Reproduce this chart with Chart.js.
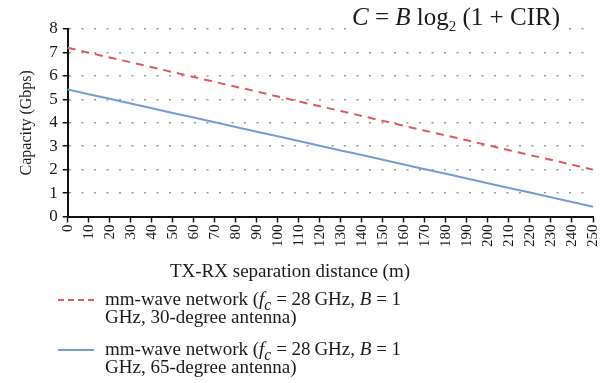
<!DOCTYPE html>
<html>
<head>
<meta charset="utf-8">
<script src="https://cdn.jsdelivr.net/npm/chart.js@4/dist/chart.umd.min.js"></script>
<style>
  body { margin: 0; background: #fff; overflow: hidden; }
  #wrap { position: relative; width: 600px; height: 383px; overflow: hidden; font-family: "Times New Roman", Tinos, "Liberation Serif", "DejaVu Serif", "Noto Serif", serif; color: #1a1a1a; }
  #chartBox { position: absolute; left: 0; top: 0; width: 613px; height: 285px; }
  #formula { position: absolute; left: 346px; top: 3px; padding: 0 6px; background: #fff; font-size: 25px; white-space: nowrap; }
  #formula sub { font-size: 15px; }
  #xTitle { position: absolute; left: 150px; width: 280px; top: 260px; text-align: center; font-size: 19px; white-space: nowrap; }
  #legend { position: absolute; left: 58px; top: 290px; font-size: 19px; line-height: 18px; }
  .item { position: relative; padding-left: 47px; margin-bottom: 14px; }
  .swatch { position: absolute; left: 0; top: 9px; width: 36px; height: 0; }
  sub { line-height: 0; }
</style>
</head>
<body>
<div id="wrap">
  <div id="chartBox"><canvas id="chart"></canvas></div>
  <div id="formula"><i>C</i> = <i>B</i> log<sub>2</sub> (1 + CIR)</div>
  <div id="xTitle"></div>
  <div id="legend"></div>
</div>
<script>
// distances in metres
const distances = [0, 10, 20, 30, 40, 50, 60, 70, 80, 90, 100, 110, 120, 130, 140, 150,
  160, 170, 180, 190, 200, 210, 220, 230, 240, 250]

// capacity in Gbps
const capacity30deg = [7.20, 6.99, 6.78, 6.58, 6.37, 6.16, 5.95, 5.74, 5.54, 5.33, 5.12, 4.91, 4.70,
  4.50, 4.29, 4.08, 3.87, 3.66, 3.46, 3.25, 3.04, 2.83, 2.62, 2.42, 2.21, 2.00]
const capacity65deg = [5.42, 5.22, 5.02, 4.82, 4.62, 4.42, 4.22, 4.02, 3.82, 3.62, 3.42, 3.22, 3.02,
  2.82, 2.62, 2.42, 2.22, 2.02, 1.82, 1.62, 1.42, 1.22, 1.02, 0.82, 0.62, 0.42]

const xAxisTitle = 'TX-RX separation distance (m)'
const yAxisTitle = 'Capacity (Gbps)'
const legendLabels = [
  'mm-wave network (<i>f<sub>c</sub></i> = 28\u2009GHz, <i>B</i> = 1<br>GHz, 30-degree antenna)',
  'mm-wave network (<i>f<sub>c</sub></i> = 28\u2009GHz, <i>B</i> = 1<br>GHz, 65-degree antenna)'
]

const serif = '"Times New Roman", Tinos, "Liberation Serif", "DejaVu Serif", "Noto Serif", serif'
const red = '#dd5a60'
const blue = '#779bd3'

const datasets = [
  { label: 'mm-wave network (fc = 28 GHz, B = 1 GHz, 30-degree antenna)', data: capacity30deg,
    borderColor: red, borderDash: [8, 6], borderWidth: 2, pointRadius: 0, fill: false, tension: 0 },
  { label: 'mm-wave network (fc = 28 GHz, B = 1 GHz, 65-degree antenna)', data: capacity65deg,
    borderColor: blue, borderWidth: 2, pointRadius: 0, fill: false, tension: 0 }
]

new Chart(document.getElementById('chart'), {
  type: 'line',
  data: { labels: distances, datasets: datasets },
  options: {
    responsive: true,
    maintainAspectRatio: false,
    animation: false,
    layout: { padding: { top: 29, right: 0, left: 13, bottom: 36 } },
    plugins: { legend: { display: false }, tooltip: { enabled: false } },
    scales: {
      x: {
        border: { color: '#111', width: 2 },
        grid: { drawOnChartArea: false, tickLength: 6, tickColor: '#111', tickWidth: 1.5 },
        ticks: { autoSkip: false, minRotation: 90, maxRotation: 90, padding: 2,
          color: '#1a1a1a', font: { family: serif, size: 15 } }
      },
      y: {
        min: 0, max: 8,
        border: { color: '#111', width: 2, dash: [2, 10.5] },
        grid: { color: '#999', lineWidth: 1.5, tickLength: 5, tickColor: '#111', tickWidth: 1.5 },
        ticks: { stepSize: 1, padding: 5, color: '#1a1a1a', font: { family: serif, size: 17 } },
        title: { display: true, text: yAxisTitle, color: '#1a1a1a',
          font: { family: serif, size: 16 }, padding: { bottom: 8 } }
      }
    }
  }
})

document.getElementById('xTitle').textContent = xAxisTitle

// legend built from the datasets
const legend = document.getElementById('legend')
datasets.forEach((ds, i) => {
  const item = document.createElement('div')
  item.className = 'item'
  const dash = ds.borderDash ? 'dashed' : 'solid'
  item.innerHTML = '<span class="swatch" style="border-top:2px ' + dash + ' ' + ds.borderColor + '"></span>' + legendLabels[i]
  legend.appendChild(item)
})
</script>
</body>
</html>
